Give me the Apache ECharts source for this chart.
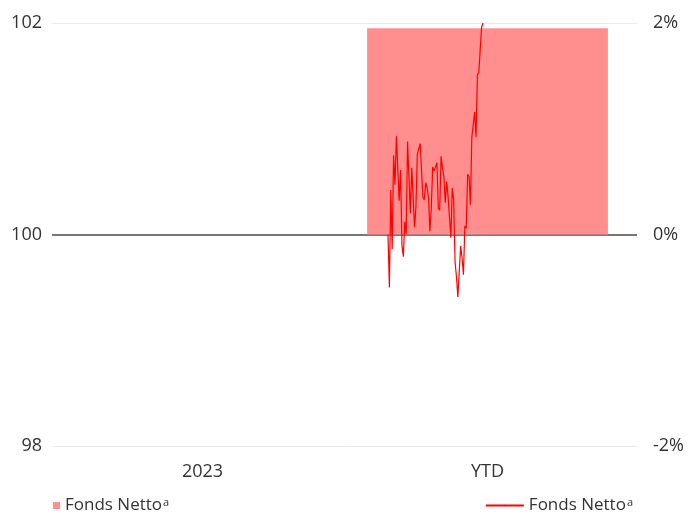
<!DOCTYPE html>
<html>
<head>
<meta charset="utf-8">
<script src="https://cdn.jsdelivr.net/npm/echarts@6/dist/echarts.min.js"></script>
<style>html,body{margin:0;padding:0;background:#fff;}#c{width:700px;height:514px;}</style>
</head>
<body>
<div id="c"></div>
<script>
var categories = ['2023', 'YTD'];
var barValues = [null, 1.95];
var lineValues = [100, 99.50, 100.42, 99.86, 100.75, 100.47, 100.93, 100.93, 100.32, 100.61, 99.90, 99.79, 100.12, 100.0, 100.88, 100.88, 100.20, 100.63, 100.63, 100.07, 100.26, 100.76, 100.75, 100.86, 100.60, 100.35, 100.33, 100.49, 100.44, 100.35, 100.03, 100.26, 100.64, 100.60, 100.64, 100.68, 100.25, 100.23, 100.74, 100.63, 100.55, 100.30, 100.50, 100.36, 100.36, 99.97, 100.44, 100.33, 99.74, 99.60, 99.41, 99.41, 99.89, 99.78, 99.62, 100.08, 100.06, 100.57, 100.55, 100.28, 100.92, 100.92, 101.16, 100.92, 101.51, 101.53, 101.75, 101.96, 102.0];
var leftTicks = [98, 100, 102];
var rightTicks = [-2, 0, 2];
var barName = 'Fonds Netto';
var lineName = 'Fonds Netto\u200b';

var font = 'Open Sans';
var fs = 18;
var lineIdx = lineValues.map(function (v, i) { return i; });
var legendText = { fontFamily: font, fontSize: 17, color: '#333',
  rich: { s: { fontFamily: font, fontSize: 11, color: '#333', padding: [0, 0, 6, 1] } } };
function legendFmt(n) { return n.replace('\u200b', '') + '{s|a}'; }
var chart = echarts.init(document.getElementById('c'));
chart.setOption({
  animation: false,
  textStyle: { fontFamily: font },
  legend: [
    { data: [barName], left: 48, top: 492, icon: 'rect', itemWidth: 7, itemHeight: 7, itemGap: 6,
      textStyle: legendText, formatter: legendFmt },
    { data: [lineName], right: 62, top: 492, itemWidth: 38, itemHeight: 2, itemGap: 6,
      textStyle: legendText, formatter: legendFmt }
  ],
  grid: [
    { left: 52, right: 63, top: 23, bottom: 68 },
    { left: 60, right: 70, top: 23, bottom: 68 },
    { left: 388, right: 217, top: 23, bottom: 68 }
  ],
  xAxis: [
    { type: 'category', gridIndex: 0, data: categories, show: false },
    { type: 'category', gridIndex: 1, data: categories, axisLine: { show: false }, axisTick: { show: false },
      axisLabel: { fontFamily: font, fontSize: fs, color: '#333', margin: 17 } },
    { type: 'category', gridIndex: 2, data: lineIdx, boundaryGap: false, show: false }
  ],
  yAxis: [
    { type: 'value', gridIndex: 0, min: 98, max: 102, interval: 2, position: 'left',
      axisLabel: { fontFamily: font, fontSize: fs, color: '#333', margin: 10,
        formatter: function (v) { return leftTicks.indexOf(v) >= 0 ? String(v) : ''; } },
      splitLine: { lineStyle: { color: ['#ebebeb', 'rgba(0,0,0,0)', '#ebebeb'], width: 1 } },
      axisLine: { show: false }, axisTick: { show: false } },
    { type: 'value', gridIndex: 0, min: -2, max: 2, interval: 2, position: 'right',
      axisLabel: { fontFamily: font, fontSize: fs, color: '#333', margin: 16,
        formatter: function (v) { return rightTicks.indexOf(v) >= 0 ? v + '%' : ''; } },
      splitLine: { show: true, lineStyle: { color: ['rgba(0,0,0,0)', '#777', 'rgba(0,0,0,0)'], width: 2 } },
      axisLine: { show: false }, axisTick: { show: false } },
    { type: 'value', gridIndex: 1, min: -2, max: 2, show: false },
    { type: 'value', gridIndex: 2, min: 98, max: 102, show: false }
  ],
  series: [
    { name: barName, type: 'bar', xAxisIndex: 1, yAxisIndex: 2, data: barValues, barWidth: '84.5%',
      itemStyle: { color: '#ff8f8f' }, z: 1 },
    { name: lineName, type: 'line', xAxisIndex: 2, yAxisIndex: 3, data: lineValues, symbol: 'none',
      lineStyle: { color: '#ff0000', width: 1.2 }, itemStyle: { color: '#ff0000' }, z: 5 }
  ]
});
</script>
</body>
</html>
